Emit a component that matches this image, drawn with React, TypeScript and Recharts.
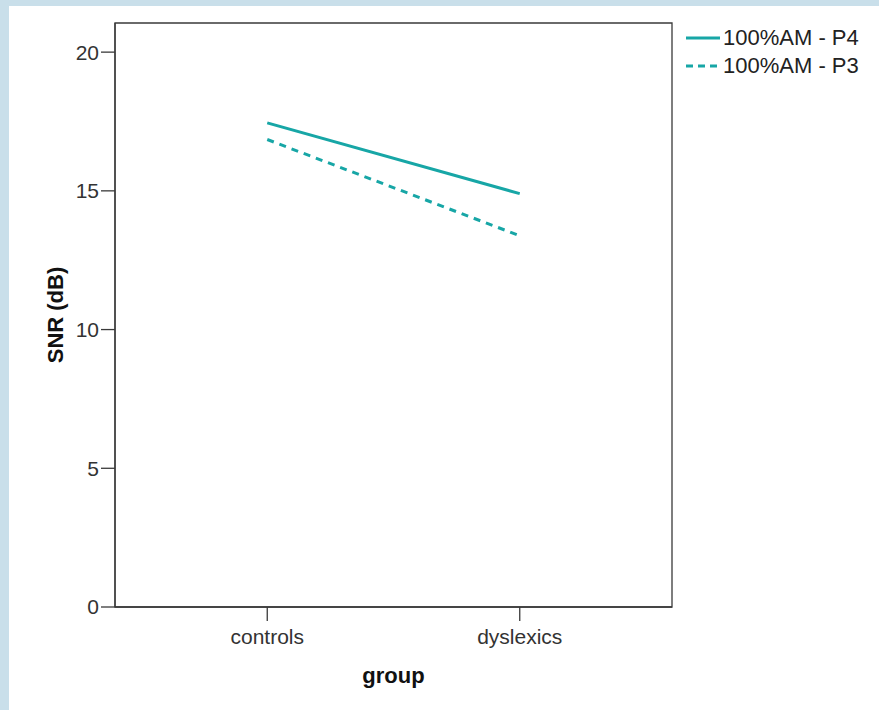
import { Label, Line, LineChart, ReferenceArea, XAxis, YAxis } from "recharts"

// SNR (dB) by group, two montages
const groups = ["controls", "dyslexics"]
const p4 = [17.45, 14.9]
const p3 = [16.85, 13.38]
const yTicks = [0, 5, 10, 15, 20]
const yMax = 21.05
// groups sit at 1 and 2 on a numeric axis, with room on both sides
const xDomain = [0.397, 2.603]

const series = [
  { key: "p4", name: "100%AM - P4", dash: undefined, legendDash: undefined },
  { key: "p3", name: "100%AM - P3", dash: "7 6", legendDash: "7 5" },
]

const data = groups.map((g, i) => ({ pos: i + 1, group: g, p4: p4[i], p3: p3[i] }))

const teal = "#17a6a6"
const axisColor = "#3a3a3a"
const font = "'Liberation Sans', Arial, sans-serif"

const YTitle = (props: any) => {
  const { viewBox } = props
  const cx = 55
  const cy = viewBox.y + viewBox.height / 2
  return (
    <text
      x={cx}
      y={cy}
      transform={`rotate(-90 ${cx} ${cy})`}
      textAnchor="middle"
      dominantBaseline="central"
      fontFamily={font}
      fontWeight="bold"
      fontSize={22}
      fill="#111"
    >
      SNR (dB)
    </text>
  )
}

export default function App() {
  return (
    <div style={{ position: "absolute", left: 0, top: 0, width: 879, height: 710, background: "#c9dfea" }}>
      <div style={{ position: "absolute", left: 9, top: 6, right: 0, bottom: 0, background: "#fff" }} />
      <div style={{ position: "absolute", left: 0, top: 0 }}>
        <LineChart width={879} height={710} data={data} margin={{ top: 23, right: 207, bottom: 0, left: 0 }}>
          <XAxis
            dataKey="pos"
            type="number"
            domain={xDomain}
            ticks={[1, 2]}
            tickFormatter={(v: number) => groups[v - 1]}
            allowDataOverflow
            height={103}
            interval={0}
            tickSize={14}
            tickMargin={8}
            stroke={axisColor}
            strokeWidth={1.3}
            tick={{ fill: "#333", fontSize: 21, fontFamily: font }}
          >
            <Label
              value="group"
              position="insideBottom"
              offset={27}
              style={{ fontFamily: font, fontWeight: "bold", fontSize: 22, fill: "#111" }}
            />
          </XAxis>
          <YAxis
            width={115}
            domain={[0, yMax]}
            ticks={yTicks}
            allowDataOverflow
            tickSize={14}
            stroke={axisColor}
            strokeWidth={1.3}
            tick={{ fill: "#333", fontSize: 21, fontFamily: font }}
          >
            <Label content={<YTitle />} />
          </YAxis>
          <ReferenceArea
            x1={xDomain[0]}
            x2={xDomain[1]}
            y1={0}
            y2={yMax}
            fill="none"
            stroke={axisColor}
            strokeWidth={1.3}
            ifOverflow="visible"
          />
          {series.map((s) => (
            <Line
              key={s.key}
              name={s.name}
              dataKey={s.key}
              stroke={teal}
              strokeWidth={3}
              strokeDasharray={s.dash}
              dot={false}
              activeDot={false}
              isAnimationActive={false}
            />
          ))}
        </LineChart>
      </div>
      <div style={{ position: "absolute", left: 686, top: 24, fontFamily: font, fontSize: 22, color: "#222" }}>
        {series.map((s) => (
          <div key={s.key} style={{ display: "flex", alignItems: "center", height: 28 }}>
            <svg width={37} height={10} style={{ marginRight: 0 }}>
              <line x1={0} y1={5} x2={34} y2={5} stroke={teal} strokeWidth={3} strokeDasharray={s.legendDash} />
            </svg>
            <span>{s.name}</span>
          </div>
        ))}
      </div>
    </div>
  )
}
